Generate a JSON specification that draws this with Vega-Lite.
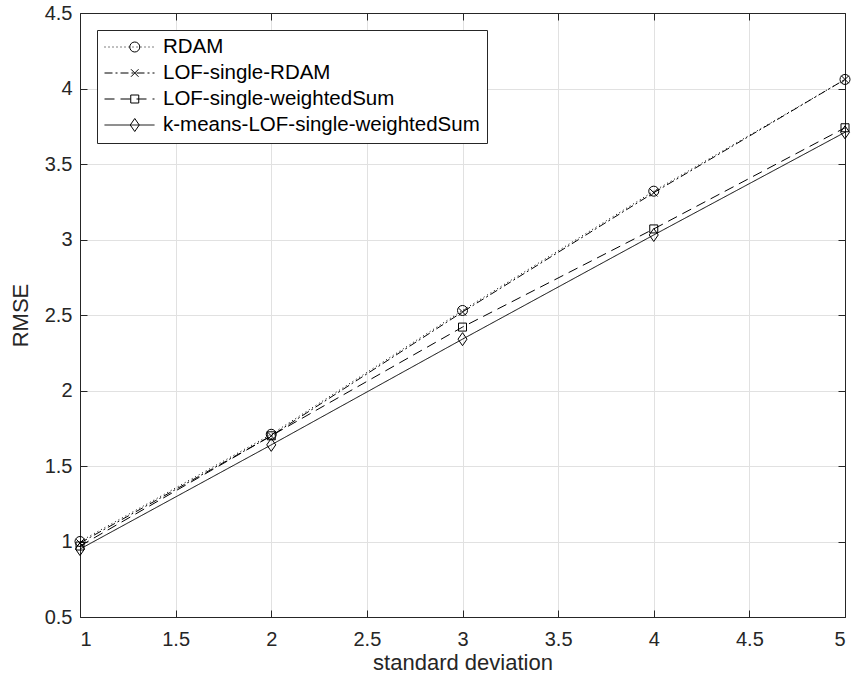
{
  "$schema": "https://vega.github.io/schema/vega-lite/v6.json",
  "width": 765,
  "height": 604,
  "autosize": {"type": "none"},
  "padding": {"left": 80, "top": 13, "right": 8, "bottom": 70},
  "background": "white",
  "config": {
    "view": {"stroke": null},
    "font": "Liberation Sans",
    "axis": {
      "labelFont": "Liberation Sans",
      "titleFont": "Liberation Sans",
      "labelColor": "#262626",
      "titleColor": "#262626",
      "labelFontSize": 20,
      "titleFontSize": 22,
      "titleFontWeight": "normal",
      "domainColor": "#262626",
      "tickColor": "#262626",
      "gridColor": "#e1e1e1",
      "gridWidth": 1
    },
    "legend": {
      "labelFont": "Liberation Sans",
      "labelFontSize": 20.5,
      "labelColor": "#000000",
      "labelLimit": 600
    }
  },
  "data": {
    "values": [
      {"sd": 1, "rmse": 1.00, "method": "RDAM"},
      {"sd": 2, "rmse": 1.71, "method": "RDAM"},
      {"sd": 3, "rmse": 2.53, "method": "RDAM"},
      {"sd": 4, "rmse": 3.32, "method": "RDAM"},
      {"sd": 5, "rmse": 4.06, "method": "RDAM"},
      {"sd": 1, "rmse": 0.99, "method": "LOF-single-RDAM"},
      {"sd": 2, "rmse": 1.70, "method": "LOF-single-RDAM"},
      {"sd": 3, "rmse": 2.52, "method": "LOF-single-RDAM"},
      {"sd": 4, "rmse": 3.31, "method": "LOF-single-RDAM"},
      {"sd": 5, "rmse": 4.06, "method": "LOF-single-RDAM"},
      {"sd": 1, "rmse": 0.97, "method": "LOF-single-weightedSum"},
      {"sd": 2, "rmse": 1.70, "method": "LOF-single-weightedSum"},
      {"sd": 3, "rmse": 2.42, "method": "LOF-single-weightedSum"},
      {"sd": 4, "rmse": 3.07, "method": "LOF-single-weightedSum"},
      {"sd": 5, "rmse": 3.74, "method": "LOF-single-weightedSum"},
      {"sd": 1, "rmse": 0.95, "method": "k-means-LOF-single-weightedSum"},
      {"sd": 2, "rmse": 1.64, "method": "k-means-LOF-single-weightedSum"},
      {"sd": 3, "rmse": 2.34, "method": "k-means-LOF-single-weightedSum"},
      {"sd": 4, "rmse": 3.03, "method": "k-means-LOF-single-weightedSum"},
      {"sd": 5, "rmse": 3.71, "method": "k-means-LOF-single-weightedSum"}
    ]
  },
  "layer": [
    {
      "mark": {"type": "line", "color": "#000000", "strokeWidth": 1},
      "encoding": {
        "x": {
          "field": "sd", "type": "quantitative",
          "scale": {"domain": [1, 5], "nice": false, "zero": false},
          "axis": {
            "orient": "bottom",
            "title": "standard deviation",
            "values": [1, 1.5, 2, 2.5, 3, 3.5, 4, 4.5, 5],
            "format": "~g",
            "grid": true,
            "tickSize": -7,
            "labelPadding": 19,
            "titlePadding": 3
          }
        },
        "y": {
          "field": "rmse", "type": "quantitative",
          "scale": {"domain": [0.5, 4.5], "nice": false, "zero": false},
          "axis": {
            "orient": "left",
            "title": "RMSE",
            "values": [0.5, 1, 1.5, 2, 2.5, 3, 3.5, 4, 4.5],
            "format": "~g",
            "grid": true,
            "tickSize": -7,
            "labelPadding": 15,
            "titlePadding": 12
          }
        },
        "strokeDash": {
          "field": "method", "type": "nominal",
          "scale": {
            "domain": ["RDAM", "LOF-single-RDAM", "LOF-single-weightedSum", "k-means-LOF-single-weightedSum"],
            "range": [[1, 3], [8, 3, 2, 3], [10, 6], [1, 0]]
          },
          "legend": {
            "title": null,
            "orient": "top-left",
            "offset": 17,
            "symbolType": "stroke",
            "symbolSize": 2500,
            "symbolStrokeColor": "#000000",
            "symbolStrokeWidth": 1,
            "clipHeight": 20,
            "rowPadding": 5,
            "padding": 7,
            "labelOffset": 8,
            "labelLimit": 600,
            "strokeColor": "#262626",
            "fillColor": "#ffffff",
            "zindex": 1
          }
        }
      }
    },
    {
      "mark": {"type": "point", "filled": false, "stroke": "#000000", "strokeWidth": 1, "size": 100, "opacity": 1},
      "encoding": {
        "x": {
          "field": "sd", "type": "quantitative",
          "axis": {
            "orient": "top",
            "title": null,
            "labels": false,
            "grid": false,
            "values": [1, 1.5, 2, 2.5, 3, 3.5, 4, 4.5, 5],
            "tickSize": -7
          }
        },
        "y": {
          "field": "rmse", "type": "quantitative",
          "axis": {
            "orient": "right",
            "title": null,
            "labels": false,
            "grid": false,
            "values": [0.5, 1, 1.5, 2, 2.5, 3, 3.5, 4, 4.5],
            "tickSize": -7
          }
        },
        "shape": {
          "field": "method", "type": "nominal",
          "scale": {
            "domain": ["RDAM", "LOF-single-RDAM", "LOF-single-weightedSum", "k-means-LOF-single-weightedSum"],
            "range": ["circle", "M-0.75,-0.75L0.75,0.75M-0.75,0.75L0.75,-0.75", "M-0.8,-0.8L0.8,-0.8L0.8,0.8L-0.8,0.8Z", "M0,-1.3L0.9,0L0,1.3L-0.9,0Z"]
          },
          "legend": {
            "title": null,
            "orient": "none",
            "legendX": 37.5,
            "legendY": 17,
            "symbolSize": 100,
            "symbolStrokeColor": "#000000",
            "symbolFillColor": "transparent",
            "symbolStrokeWidth": 1,
            "clipHeight": 20,
            "rowPadding": 5,
            "padding": 7,
            "labelExpr": "''",
            "zindex": 2
          }
        }
      }
    }
  ],
  "resolve": {"axis": {"x": "independent", "y": "independent"}}
}
